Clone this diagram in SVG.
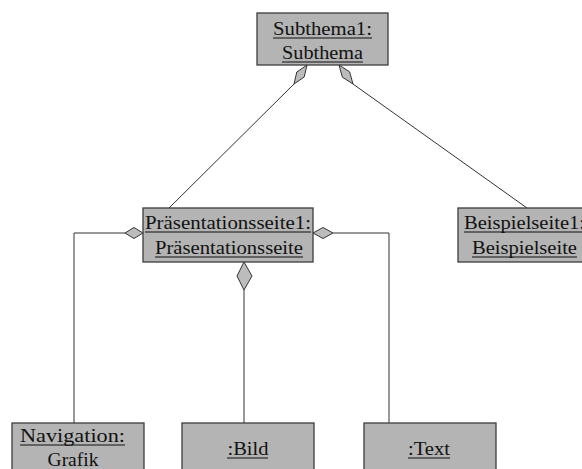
<svg xmlns="http://www.w3.org/2000/svg" width="582" height="469" viewBox="0 0 582 469">
<style>
.box{fill:#b4b4b4;stroke:#3c3c3c;stroke-width:1.3}
.conn{fill:none;stroke:#333;stroke-width:1}
.dia{fill:#bcbcbc;stroke:#333;stroke-width:1}
.t{font-family:"Liberation Serif","Times New Roman",serif;font-size:19.5px;fill:#111;text-anchor:middle}
.u{stroke:#111;stroke-width:1}
</style>
<rect width="582" height="469" fill="#fff"/>
<g id="connectors">
<polyline class="conn" points="294,84 169,208"/>
<polyline class="conn" points="353,84 527,208"/>
<polyline class="conn" points="125,233 74,233 74,423"/>
<polyline class="conn" points="333,233 389,233 389,423"/>
<polyline class="conn" points="244,290 244,423"/>
<polygon class="dia" points="307,65 304.2,77 294,84 296.8,72"/>
<polygon class="dia" points="339,65 349.6,71.8 353,84 342.4,77.2"/>
<polygon class="dia" points="143,233 134,227.5 125,233 134,238.5"/>
<polygon class="dia" points="313,233 323,227.5 333,233 323,238.5"/>
<polygon class="dia" points="244,262 252,276 244,290 237,276"/>
</g>
<g id="subthema1">
<rect class="box" x="257" y="13" width="131" height="52"/>
<text class="t" x="322.5" y="35" textLength="99" lengthAdjust="spacingAndGlyphs">Subthema1:</text>
<line class="u" x1="273" y1="38" x2="372" y2="38"/>
<text class="t" x="322.5" y="59" textLength="81" lengthAdjust="spacingAndGlyphs">Subthema</text>
<line class="u" x1="282" y1="62" x2="363" y2="62"/>
</g>
<g id="praesentationsseite1">
<rect class="box" x="143" y="208" width="170" height="54"/>
<text class="t" x="228" y="229" textLength="166" lengthAdjust="spacingAndGlyphs">Präsentationsseite1:</text>
<line class="u" x1="145" y1="232" x2="311" y2="232"/>
<text class="t" x="229" y="254" textLength="148" lengthAdjust="spacingAndGlyphs">Präsentationsseite</text>
<line class="u" x1="155" y1="257" x2="303" y2="257"/>
</g>
<g id="beispielseite1">
<rect class="box" x="458" y="208" width="134" height="54"/>
<text class="t" x="524.5" y="229" textLength="121" lengthAdjust="spacingAndGlyphs">Beispielseite1:</text>
<line class="u" x1="464" y1="232" x2="585" y2="232"/>
<text class="t" x="524.5" y="254" textLength="105" lengthAdjust="spacingAndGlyphs">Beispielseite</text>
<line class="u" x1="472" y1="257" x2="577" y2="257"/>
</g>
<g id="navigation">
<rect class="box" x="12" y="423" width="132" height="60"/>
<text class="t" x="72.5" y="442" textLength="105" lengthAdjust="spacingAndGlyphs">Navigation:</text>
<line class="u" x1="20" y1="445" x2="125" y2="445"/>
<text class="t" x="73" y="466">Grafik</text>
</g>
<g id="bild">
<rect class="box" x="182" y="423" width="132" height="60"/>
<text class="t" x="248" y="455" textLength="41" lengthAdjust="spacingAndGlyphs">:Bild</text>
<line class="u" x1="227" y1="458" x2="268" y2="458"/>
</g>
<g id="text">
<rect class="box" x="364" y="423" width="132" height="60"/>
<text class="t" x="429" y="455" textLength="42" lengthAdjust="spacingAndGlyphs">:Text</text>
<line class="u" x1="408" y1="458" x2="450" y2="458"/>
</g>
</svg>
